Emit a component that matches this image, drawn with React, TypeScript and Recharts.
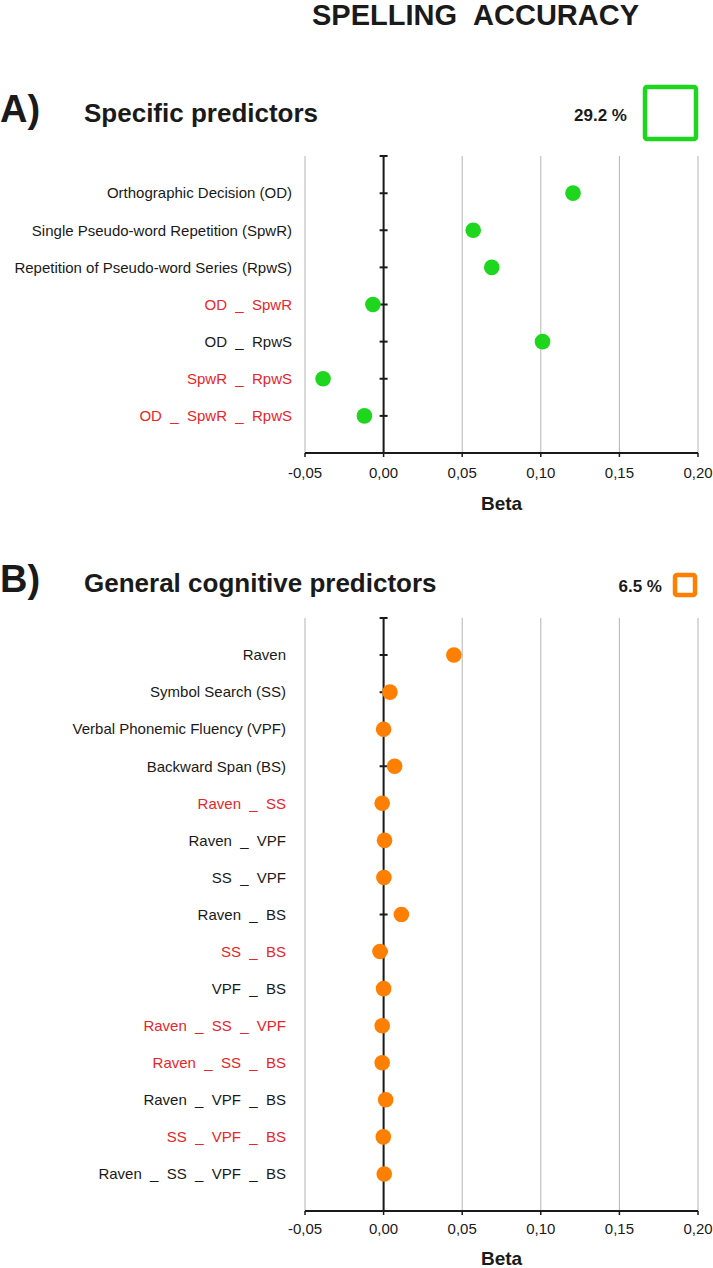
import React from 'react';
import { CartesianGrid, ReferenceLine, Scatter, ScatterChart, XAxis, YAxis } from 'recharts';

// A) specific predictors
const labelsA = [
  'Orthographic Decision (OD)',
  'Single Pseudo-word Repetition (SpwR)',
  'Repetition of Pseudo-word Series (RpwS)',
  'OD _ SpwR',
  'OD _ RpwS',
  'SpwR _ RpwS',
  'OD _ SpwR _ RpwS',
];
const betaA = [0.1205, 0.057, 0.0688, -0.0068, 0.1011, -0.0385, -0.0122];
const redA = [false, false, false, true, false, true, true];

// B) general cognitive predictors
const labelsB = [
  'Raven',
  'Symbol Search (SS)',
  'Verbal Phonemic Fluency (VPF)',
  'Backward Span (BS)',
  'Raven _ SS',
  'Raven _ VPF',
  'SS _ VPF',
  'Raven _ BS',
  'SS _ BS',
  'VPF _ BS',
  'Raven _ SS _ VPF',
  'Raven _ SS _ BS',
  'Raven _ VPF _ BS',
  'SS _ VPF _ BS',
  'Raven _ SS _ VPF _ BS',
];
const betaB = [0.0447, 0.004, 0.0, 0.007, -0.0009, 0.0006, 0.0002, 0.0113, -0.0023, 0.0, -0.0009, -0.0009, 0.0013, -0.0002, 0.0004];
const redB = [false, false, false, false, true, false, false, false, true, false, true, true, false, true, false];

const xTicks = [-0.05, 0, 0.05, 0.1, 0.15, 0.2];

const FONT = '"Liberation Sans", Arial, Helvetica, sans-serif';
const INK = '#1a1a1a';
const RED = '#e8262b';
const GREEN = '#1fd61f';
const ORANGE = '#ff7f00';
const GRID = '#b4b4b4';

const fmt = (v: number) => v.toFixed(2).replace('.', ',');
const spaced = (s: string) => s.replace(/ _ /g, '\u00a0\u00a0_\u00a0\u00a0');

function CatTick(props: any) {
  const { x, y, payload, labels, red } = props;
  const i = payload.value - 1;
  if (i < 0 || i >= labels.length) return null;
  return (
    <text x={x} y={y} dy="0.35em" textAnchor="end" fontSize={15} fontFamily={FONT} fill={red[i] ? RED : INK}>
      {spaced(labels[i])}
    </text>
  );
}

const zeroTick = (p: any) => (
  <line x1={p.cx - 4} x2={p.cx + 4} y1={p.cy} y2={p.cy} stroke={INK} strokeWidth={2} />
);

const dot = (color: string) => (p: any) => <circle cx={p.cx} cy={p.cy} r={7.8} fill={color} />;

interface PanelProps {
  labels: string[];
  betas: number[];
  red: boolean[];
  color: string;
  height: number;
  marginTop: number;
  marginBottom: number;
  axisHeight: number;
  labelGap: number;
  tickGap: number;
  betaOffset: number;
}

function Panel(p: PanelProps) {
  const n = p.labels.length;
  const points = p.betas.map((b, i) => ({ x: b, y: i + 1 }));
  const zero = Array.from({ length: n + 1 }, (_, i) => ({ x: 0, y: i }));
  const yTicks = Array.from({ length: n }, (_, i) => i + 1);
  return (
    <ScatterChart
      width={713}
      height={p.height}
      margin={{ top: p.marginTop, right: 15, bottom: p.marginBottom, left: 0 }}
    >
      <CartesianGrid horizontal={false} stroke={GRID} strokeWidth={1} />
      <XAxis
        type="number"
        dataKey="x"
        domain={[-0.05, 0.2]}
        ticks={xTicks}
        allowDataOverflow
        tickFormatter={fmt}
        height={p.axisHeight}
        axisLine={{ stroke: INK, strokeWidth: 2 }}
        tickLine={{ stroke: INK, strokeWidth: 1.5 }}
        tickSize={4}
        tickMargin={p.tickGap}
        tick={{ fill: INK, fontSize: 15, fontFamily: FONT }}
        label={{
          value: 'Beta',
          position: 'insideBottom',
          offset: p.betaOffset,
          fill: INK,
          fontSize: 19,
          fontWeight: 'bold',
          fontFamily: FONT,
        }}
      />
      <YAxis
        type="number"
        dataKey="y"
        domain={[0, n + 1]}
        reversed
        ticks={yTicks}
        interval={0}
        width={305}
        axisLine={false}
        tickLine={false}
        tickSize={0}
        tickMargin={p.labelGap}
        tick={<CatTick labels={p.labels} red={p.red} />}
      />
      <ReferenceLine x={0} stroke={INK} strokeWidth={2} />
      <Scatter data={zero} shape={zeroTick} isAnimationActive={false} />
      <Scatter data={points} shape={dot(p.color)} isAnimationActive={false} />
    </ScatterChart>
  );
}

export default function App() {
  return (
    <div style={{ position: 'absolute', left: 0, top: 0, width: 713, height: 1268, background: '#fff' }}>
      <div style={{ position: 'absolute', left: 0, top: 0 }}>
        <Panel
          labels={labelsA}
          betas={betaA}
          red={redA}
          color={GREEN}
          height={540}
          marginTop={156}
          marginBottom={27}
          axisHeight={60}
          labelGap={13}
          tickGap={10}
          betaOffset={3}
        />
      </div>
      <div style={{ position: 'absolute', left: 0, top: 540 }}>
        <Panel
          labels={labelsB}
          betas={betaB}
          red={redB}
          color={ORANGE}
          height={728}
          marginTop={78}
          marginBottom={0}
          axisHeight={57}
          labelGap={19}
          tickGap={8}
          betaOffset={3}
        />
      </div>
      <svg
        width={713}
        height={1268}
        style={{ position: 'absolute', left: 0, top: 0, pointerEvents: 'none' }}
        fontFamily={FONT}
        fill={INK}
      >
        <text x={475.5} y={25} textAnchor="middle" fontSize={29} fontWeight="bold">
          {'SPELLING\u00a0\u00a0ACCURACY'}
        </text>
        <text x={0} y={122} fontSize={38} fontWeight="bold">A)</text>
        <text x={84} y={122} fontSize={26} fontWeight="bold">Specific predictors</text>
        <text x={627} y={121} textAnchor="end" fontSize={17} fontWeight="bold">29.2 %</text>
        <rect x={645} y={87} width={51} height={52} rx={2} fill="none" stroke={GREEN} strokeWidth={4.5} />
        <text x={0} y={592} fontSize={38} fontWeight="bold">B)</text>
        <text x={84} y={592} fontSize={26} fontWeight="bold">General cognitive predictors</text>
        <text x={662} y={592} textAnchor="end" fontSize={17} fontWeight="bold">6.5 %</text>
        <rect x={675} y={575} width={20} height={20} rx={2} fill="none" stroke={ORANGE} strokeWidth={4.5} />
      </svg>
    </div>
  );
}
